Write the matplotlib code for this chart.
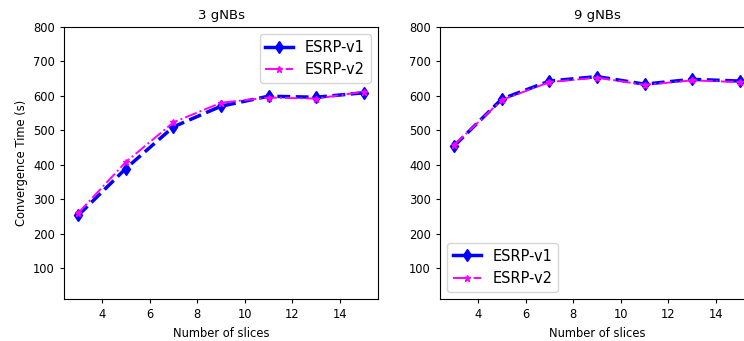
import matplotlib
matplotlib.use("Agg")
import matplotlib.pyplot as plt
from matplotlib.lines import Line2D

slices = [3, 5, 7, 9, 11, 13, 15]

# Convergence time (s), 3 gNBs
v1_3gnb = [253, 389, 510, 570, 599, 596, 609]
v2_3gnb = [260, 408, 523, 580, 595, 592, 612]

# Convergence time (s), 9 gNBs
v1_9gnb = [455, 591, 643, 656, 634, 648, 643]
v2_9gnb = [458, 588, 640, 653, 632, 645, 640]

titles = ["3 gNBs", "9 gNBs"]
series_labels = ["ESRP-v1", "ESRP-v2"]
yticks = [100, 200, 300, 400, 500, 600, 700, 800]
xticks = [4, 6, 8, 10, 12, 14]

W, H = 744, 341
fig = plt.figure(figsize=(W / 100, H / 100), dpi=100)

def px_axes(x0, y0, x1, y1):
    return fig.add_axes([x0 / W, 1 - y1 / H, (x1 - x0) / W, (y1 - y0) / H])

ax1 = px_axes(64, 27, 378, 299)
ax2 = px_axes(440, 27, 754, 299)

data = [(v1_3gnb, v2_3gnb), (v1_9gnb, v2_9gnb)]
legend_locs = ["upper right", "lower left"]

v1_style = dict(color="blue", linewidth=2.5, marker="d", markersize=6.5)
v2_style = dict(color="magenta", linestyle="-.", linewidth=1.4,
                marker="*", markersize=5)

for ax, (v1, v2), title, loc in zip([ax1, ax2], data, titles, legend_locs):
    ax.plot(slices, v1, linestyle="--", label=series_labels[0], **v1_style)
    line2, = ax.plot(slices, v2, label=series_labels[1], **v2_style)
    ax.set_xlim(2.4, 15.6)
    ax.set_ylim(10, 800)
    ax.set_xticks(xticks)
    ax.set_yticks(yticks)
    ax.tick_params(labelsize=8.3, length=3)
    ax.set_xlabel("Number of slices", fontsize=8.3)
    ax.set_title(title, fontsize=9.5)
    v1_handle = Line2D([], [], linestyle="-", **v1_style)
    ax.legend([v1_handle, line2], series_labels, loc=loc, fontsize=10.5,
              handlelength=1.9)

ax1.set_ylabel("Convergence Time (s)", fontsize=8.3)

fig.savefig("out.png", dpi=100)
